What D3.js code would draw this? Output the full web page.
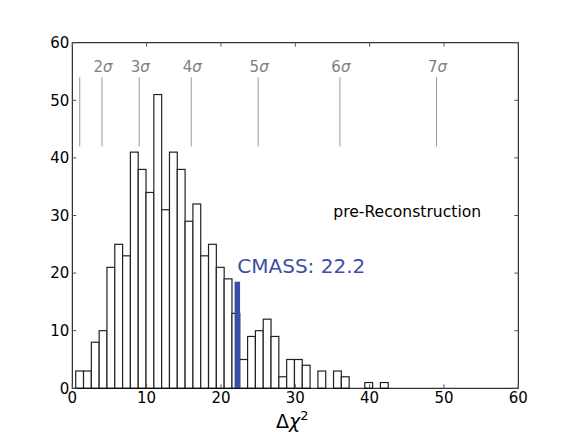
<!DOCTYPE html>
<html>
<head>
<meta charset="utf-8">
<script src="https://cdn.jsdelivr.net/npm/d3@7/dist/d3.min.js"></script>
<style>
  html, body { margin: 0; padding: 0; background: #fff; }
  svg { display: block; font-family: "DejaVu Sans", sans-serif; }
</style>
</head>
<body>
<svg id="chart" width="576" height="432"></svg>
<script>
// ---- data ----
const binCounts = [3, 3, 8, 10, 21, 25, 23, 41, 38, 34, 51, 31, 41, 38, 29, 32, 23, 25, 21, 19,
                   13, 5, 9, 10, 12, 9, 2, 5, 5, 4, 0, 3, 0, 3, 2, 0, 0, 1, 0, 1];
const binRange = [0.46, 42.5];
const sigmaLevels = [1, 2, 3, 4, 5, 6, 7];
const sigmaLabels = ["", "2", "3", "4", "5", "6", "7"];
const sigmaLineRange = [42, 54];
const cmassValue = 22.2;
const cmassHeight = 18.5;
const cmassLabel = "CMASS: 22.2";
const panelLabel = "pre-Reconstruction";
const xTicks = [0, 10, 20, 30, 40, 50, 60];
const yTicks = [0, 10, 20, 30, 40, 50, 60];
const xDomain = [0, 60];
const yDomain = [0, 60];

// ---- layout ----
const svg = d3.select("#chart");
const L = 72.3, R = 518.3, T = 42.7, B = 388.3;
const x = d3.scaleLinear().domain(xDomain).range([L, R]);
const y = d3.scaleLinear().domain(yDomain).range([B, T]);

const nb = binCounts.length;
const bw = (binRange[1] - binRange[0]) / nb;
const bins = binCounts.map((c, i) => ({x0: binRange[0] + i * bw, x1: binRange[0] + (i + 1) * bw, c}));

// bars
svg.append("g").selectAll("rect").data(bins.filter(d => d.c > 0)).join("rect")
  .attr("x", d => x(d.x0))
  .attr("width", d => x(d.x1) - x(d.x0))
  .attr("y", d => y(d.c))
  .attr("height", d => y(0) - y(d.c))
  .attr("fill", "#fff")
  .attr("stroke", "#222")
  .attr("stroke-width", 1.2);

// sigma lines
const sg = svg.append("g");
sg.selectAll("line").data(sigmaLevels).join("line")
  .attr("x1", d => x(d * d)).attr("x2", d => x(d * d))
  .attr("y1", y(sigmaLineRange[0])).attr("y2", y(sigmaLineRange[1]))
  .attr("stroke", "#999").attr("stroke-width", 1);
sg.selectAll("text").data(sigmaLevels.map((d, i) => ({d, t: sigmaLabels[i]})).filter(o => o.t))
  .join("text")
  .attr("x", o => x(o.d * o.d) + 1)
  .attr("y", y(sigmaLineRange[1]) - 5)
  .attr("text-anchor", "middle")
  .attr("font-size", 15)
  .attr("fill", "#808080")
  .each(function(o) {
    const t = d3.select(this);
    t.append("tspan").text(o.t);
    t.append("tspan").attr("font-style", "italic").text("σ");
  });

// CMASS marker
svg.append("line")
  .attr("x1", x(cmassValue)).attr("x2", x(cmassValue))
  .attr("y1", y(0)).attr("y2", y(cmassHeight))
  .attr("stroke", "#3b4fa6").attr("stroke-width", 5.5);
svg.append("text")
  .attr("x", x(cmassValue)).attr("y", 273.3)
  .attr("font-size", 20).attr("fill", "#3b4fa6")
  .text(cmassLabel);

svg.append("text")
  .attr("x", 333.3).attr("y", 216.7)
  .attr("font-size", 15.6).attr("fill", "#000")
  .text(panelLabel);

// frame
svg.append("rect").attr("x", L).attr("y", T).attr("width", R - L).attr("height", B - T)
  .attr("fill", "none").attr("stroke", "#000").attr("stroke-width", 1);

// ticks (inside, all four sides)
const tk = svg.append("g").attr("stroke", "#555").attr("stroke-width", 1);
xTicks.forEach(v => {
  tk.append("line").attr("x1", x(v)).attr("x2", x(v)).attr("y1", B).attr("y2", B - 4);
  tk.append("line").attr("x1", x(v)).attr("x2", x(v)).attr("y1", T).attr("y2", T + 4);
});
yTicks.forEach(v => {
  tk.append("line").attr("x1", L).attr("x2", L + 4).attr("y1", y(v)).attr("y2", y(v));
  tk.append("line").attr("x1", R).attr("x2", R - 4).attr("y1", y(v)).attr("y2", y(v));
});

// tick labels
svg.append("g").selectAll("text").data(xTicks).join("text")
  .attr("x", d => x(d)).attr("y", B + 14.5)
  .attr("text-anchor", "middle").attr("font-size", 15)
  .text(d => d);
svg.append("g").selectAll("text").data(yTicks).join("text")
  .attr("x", L - 3).attr("y", d => y(d) + 5.3)
  .attr("text-anchor", "end").attr("font-size", 15)
  .text(d => d);

// x label
const xl = svg.append("text").attr("x", (L + R) / 2 - 3).attr("y", 428.3)
  .attr("text-anchor", "middle").attr("font-size", 19);
xl.append("tspan").text("Δ");
xl.append("tspan").attr("font-style", "italic").text("χ");
xl.append("tspan").attr("font-size", 13).attr("dy", -8).text("2");
</script>
</body>
</html>
